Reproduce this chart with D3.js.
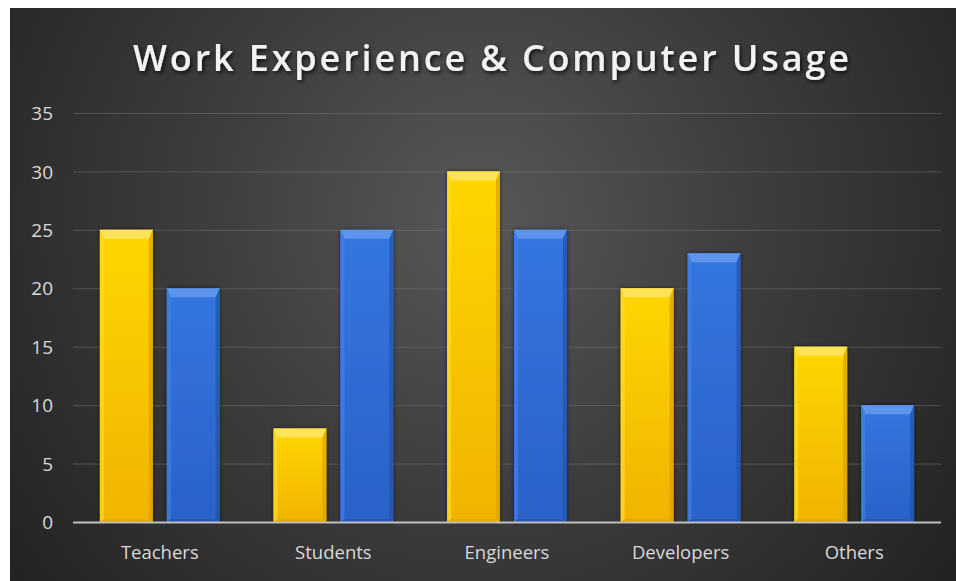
<!DOCTYPE html>
<html>
<head>
<meta charset="utf-8">
<script src="https://cdn.jsdelivr.net/npm/d3@7"></script>
<style>
  html, body { margin: 0; padding: 0; background: #ffffff; }
  svg { display: block; }
</style>
</head>
<body>
<svg id="chart" width="956" height="581"></svg>
<script>
// Chart data
const categories = ["Teachers", "Students", "Engineers", "Developers", "Others"];
const workExperience = [25, 8, 30, 20, 15];
const computerUsage = [20, 25, 25, 23, 10];
const yTicks = [0, 5, 10, 15, 20, 25, 30, 35];
const titleText = "Work Experience & Computer Usage";

const svg = d3.select("#chart");
const W = 956, H = 581;
const panel = { x: 10, y: 8, w: W - 10, h: H - 8 };
const plot = { left: 73, right: 941, top: 113, bottom: 522 };
const FONT = "'Open Sans', 'Noto Sans', sans-serif";

const defs = svg.append("defs");

// Background radial gradient
const bg = defs.append("radialGradient").attr("id", "bgGrad")
  .attr("gradientUnits", "userSpaceOnUse")
  .attr("cx", 480).attr("cy", 220).attr("r", 620);
bg.append("stop").attr("offset", "0%").attr("stop-color", "#585858");
bg.append("stop").attr("offset", "45%").attr("stop-color", "#3d3d3d");
bg.append("stop").attr("offset", "100%").attr("stop-color", "#202020");

// Bar body gradients
function barGrad(id, top, bottom) {
  const g = defs.append("linearGradient").attr("id", id)
    .attr("x1", 0).attr("y1", 0).attr("x2", 0).attr("y2", 1);
  g.append("stop").attr("offset", "0%").attr("stop-color", top);
  g.append("stop").attr("offset", "100%").attr("stop-color", bottom);
}
barGrad("gYellow", "#ffd600", "#f0b400");
barGrad("gBlue", "#3476e0", "#2a62c8");

// Soft shadow under bars
const sh = defs.append("filter").attr("id", "barShadow")
  .attr("x", "-20%").attr("y", "-10%").attr("width", "140%").attr("height", "120%");
sh.append("feDropShadow").attr("dx", 0).attr("dy", 0).attr("stdDeviation", 2.2)
  .attr("flood-color", "#000").attr("flood-opacity", 0.55);

// Title shadow
const tsh = defs.append("filter").attr("id", "titleShadow")
  .attr("x", "-10%").attr("y", "-30%").attr("width", "120%").attr("height", "160%");
tsh.append("feDropShadow").attr("dx", 1.5).attr("dy", 2).attr("stdDeviation", 2)
  .attr("flood-color", "#000").attr("flood-opacity", 0.8);

svg.append("rect")
  .attr("x", panel.x).attr("y", panel.y).attr("width", panel.w).attr("height", panel.h)
  .attr("fill", "url(#bgGrad)");

// Scales
const x0 = d3.scaleBand().domain(categories).range([plot.left, plot.right]).paddingInner(0).paddingOuter(0);
const series = [
  { key: "work", values: workExperience, fill: "url(#gYellow)", top: "#ffe45a", side: "#ffdc2a", dark: "#dca000", bottom: "#e0a800" },
  { key: "usage", values: computerUsage, fill: "url(#gBlue)", top: "#5d95ec", side: "#4281e4", dark: "#2252a8", bottom: "#2456b4" }
];
const groupWidth = x0.bandwidth() * 0.69;
const x1 = d3.scaleBand().domain(series.map(s => s.key))
  .range([0, groupWidth])
  .paddingInner(0.21);
const groupOffset = (x0.bandwidth() - groupWidth) / 2;
const y = d3.scaleLinear().domain([0, 35]).range([plot.bottom, plot.top]);

// Gridlines
svg.append("g").selectAll("line").data(yTicks.filter(t => t > 0)).join("line")
  .attr("x1", plot.left).attr("x2", plot.right)
  .attr("y1", d => y(d) + 0.5).attr("y2", d => y(d) + 0.5)
  .attr("stroke", "#6a6a6a").attr("stroke-opacity", 0.6).attr("stroke-width", 1);

// Y axis labels
const yAxis = d3.axisLeft(y).tickValues(yTicks).tickSize(0).tickPadding(0);
const gy = svg.append("g").attr("transform", `translate(${plot.left - 20},0)`).call(yAxis);
gy.select(".domain").remove();
gy.selectAll("text")
  .attr("fill", "#d9d9d9").attr("font-family", FONT)
  .attr("font-size", 19).attr("dy", "0.35em");

// Bars
const groups = svg.append("g").selectAll("g").data(categories).join("g")
  .attr("transform", d => `translate(${x0(d) + groupOffset},0)`);

series.forEach(s => {
  groups.each(function (cat, i) {
    const g = d3.select(this).append("g").attr("filter", "url(#barShadow)");
    const bx = x1(s.key), bw = x1.bandwidth();
    const by = y(s.values[i]), bb = y(0);
    const bh = bb - by;
    const bt = Math.min(9, bh / 3), bs = 4;
    g.append("rect").attr("x", bx).attr("y", by).attr("width", bw).attr("height", bh).attr("fill", s.fill);
    // top bevel facet
    g.append("polygon")
      .attr("points", [[bx, by], [bx + bw, by], [bx + bw - bs, by + bt], [bx + bs, by + bt]].join(" "))
      .attr("fill", s.top);
    // left facet
    g.append("polygon")
      .attr("points", [[bx, by], [bx + bs, by + bt], [bx + bs, bb - 3], [bx, bb]].join(" "))
      .attr("fill", s.side).attr("opacity", 0.7);
    // right facet
    g.append("polygon")
      .attr("points", [[bx + bw, by], [bx + bw - bs, by + bt], [bx + bw - bs, bb - 3], [bx + bw, bb]].join(" "))
      .attr("fill", s.dark).attr("opacity", 0.7);
    // bottom facet
    g.append("polygon")
      .attr("points", [[bx, bb], [bx + bs, bb - 3], [bx + bw - bs, bb - 3], [bx + bw, bb]].join(" "))
      .attr("fill", s.bottom).attr("opacity", 0.8);
  });
});

// Baseline
svg.append("line")
  .attr("x1", plot.left).attr("x2", plot.right)
  .attr("y1", plot.bottom + 0.5).attr("y2", plot.bottom + 0.5)
  .attr("stroke", "#bfbfbf").attr("stroke-width", 2);

// Category axis
const xAxis = d3.axisBottom(x0).tickSize(0).tickPadding(0);
const gx = svg.append("g").attr("transform", `translate(0,${plot.bottom + 31})`).call(xAxis);
gx.select(".domain").remove();
gx.selectAll("text")
  .attr("fill", "#d9d9d9").attr("font-family", FONT)
  .attr("font-size", 18.5).attr("dy", "0.35em");

// Title
svg.append("text")
  .attr("x", (133 + 852) / 2).attr("y", 71)
  .attr("text-anchor", "middle")
  .attr("fill", "#f2f2f2")
  .attr("font-family", FONT)
  .attr("font-weight", 600)
  .attr("font-size", 36)
  .attr("letter-spacing", 3)
  .attr("textLength", 719).attr("lengthAdjust", "spacing")
  .attr("filter", "url(#titleShadow)")
  .text(titleText);
</script>
</body>
</html>
